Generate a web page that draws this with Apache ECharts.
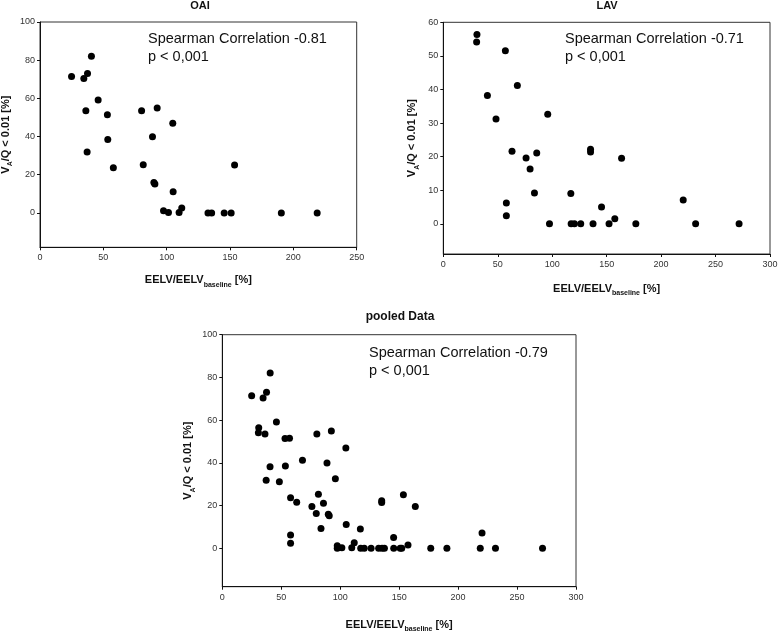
<!DOCTYPE html>
<html>
<head>
<meta charset="utf-8">
<script src="https://cdn.jsdelivr.net/npm/echarts@6/dist/echarts.min.js"></script>
<style>html,body{margin:0;padding:0;background:#fff}#c{width:778px;height:631px}</style>
</head>
<body>
<div id="c"></div>
<script>
// OAI data
var oaiX = [24.9, 34.6, 37.5, 40.6, 45.9, 36.2, 53.2, 53.5, 37.2, 57.9, 80.2, 92.5, 104.8, 88.8, 81.5, 89.9, 90.7, 105.1, 153.6, 97.5, 101.4, 109.8, 111.9, 132.6, 135.5, 145.4, 150.9, 190.5, 218.8];
var oaiY = [71.4, 70.4, 73.0, 82.1, 59.1, 53.5, 51.4, 38.5, 31.9, 23.7, 53.5, 54.9, 47.0, 39.9, 25.3, 15.9, 15.2, 11.1, 25.1, 1.2, 0.2, 0.2, 2.6, 0, 0, 0, 0, 0, 0];
// LAV data
var lavX = [30.9, 30.6, 57.0, 40.5, 68.0, 48.4, 95.9, 63.1, 76.0, 85.8, 79.7, 83.7, 57.9, 57.9, 135.2, 135.2, 163.7, 117.1, 145.3, 97.5, 117.4, 120.4, 126.2, 137.5, 152.2, 157.5, 176.8, 220.3, 231.7, 271.6];
var lavY = [56.4, 54.1, 51.5, 38.2, 41.2, 31.2, 32.6, 21.6, 19.6, 21.1, 16.3, 9.2, 6.2, 2.4, 22.2, 21.4, 19.5, 9.0, 5.0, 0, 0, 0, 0, 0, 0, 1.5, 0, 7.1, 0, 0];
// tick labels
var oaiXTicks = [0, 50, 100, 150, 200, 250];
var lavXTicks = [0, 50, 100, 150, 200, 250, 300];
var pctTicks = [0, 20, 40, 60, 80, 100];
var lavYTicks = [0, 10, 20, 30, 40, 50, 60];
var titles = ['OAI', 'LAV', 'pooled Data'];
var corrTexts = ['Spearman Correlation -0.81\np < 0,001', 'Spearman Correlation -0.71\np < 0,001', 'Spearman Correlation -0.79\np < 0,001'];

function pairs(xs, ys) { return xs.map(function (x, i) { return [x, ys[i]]; }); }
var pooledX = oaiX.concat(lavX);
var pooledY = oaiY.concat(lavY);

var FONT = 'Liberation Sans, Arial, sans-serif';
var richName = {
  b: { fontSize: 11, fontWeight: 'bold', fontFamily: FONT, color: '#111', lineHeight: 16 },
  s: { fontSize: 7, fontWeight: 'bold', fontFamily: FONT, color: '#111', lineHeight: 7, verticalAlign: 'bottom' }
};
function xAx(idx, max, ticks, gap) {
  return {
    gridIndex: idx, type: 'value', min: 0, max: max,
    axisLine: { show: true, onZero: false, lineStyle: { color: '#111', width: 1 } },
    axisTick: { show: true, inside: false, length: 3, customValues: ticks, lineStyle: { color: '#111' } },
    axisLabel: { customValues: ticks, fontSize: 9, color: '#333', fontFamily: FONT, margin: 6 },
    splitLine: { show: false },
    name: '{b|EELV/EELV}{s|baseline}{b| [%]}', nameLocation: 'middle', nameGap: gap,
    nameTextStyle: { rich: richName }
  };
}
function yAx(idx, min, max, ticks, gap) {
  return {
    gridIndex: idx, type: 'value', min: min, max: max,
    axisLine: { show: true, onZero: false, lineStyle: { color: '#111', width: 1 } },
    axisTick: { show: true, inside: false, length: 3, customValues: ticks, lineStyle: { color: '#111' } },
    axisLabel: { customValues: ticks, fontSize: 9, color: '#333', fontFamily: FONT, margin: 5 },
    splitLine: { show: false },
    name: '{b|V}{s|A}{b|/Q < 0.01 [%]}', nameLocation: 'middle', nameGap: gap,
    nameTextStyle: { rich: richName }
  };
}
function ser(idx, data) {
  return { type: 'scatter', xAxisIndex: idx, yAxisIndex: idx, data: data, symbolSize: 7,
    itemStyle: { color: '#000', opacity: 1 }, silent: true, animation: false };
}
var gridStyle = { show: true, borderColor: '#333', borderWidth: 1, backgroundColor: 'transparent', containLabel: false, outerBoundsMode: 'none' };
var option = {
  animation: false,
  title: [
    { text: titles[0], left: 200, top: 0, textAlign: 'center', padding: 0, textStyle: { fontSize: 11, fontWeight: 'bold', fontFamily: FONT, color: '#111' } },
    { text: titles[1], left: 607, top: 0, textAlign: 'center', padding: 0, textStyle: { fontSize: 11, fontWeight: 'bold', fontFamily: FONT, color: '#111' } },
    { text: titles[2], left: 400, top: 311, textAlign: 'center', padding: 0, textStyle: { fontSize: 12, fontWeight: 'bold', fontFamily: FONT, color: '#111' } }
  ],
  grid: [
    Object.assign({ left: 40, top: 22, width: 316.7, height: 225.3 }, gridStyle),
    Object.assign({ left: 443.3, top: 22.3, width: 326.7, height: 231.7 }, gridStyle),
    Object.assign({ left: 222.3, top: 334.7, width: 353.7, height: 252 }, gridStyle)
  ],
  xAxis: [xAx(0, 250, oaiXTicks, 25), xAx(1, 300, lavXTicks, 27), xAx(2, 300, lavXTicks, 30)],
  yAxis: [yAx(0, -18, 100, pctTicks, 26), yAx(1, -9, 60, lavYTicks, 23), yAx(2, -18, 100, pctTicks, 26)],
  series: [ser(0, pairs(oaiX, oaiY)), ser(1, pairs(lavX, lavY)), ser(2, pairs(pooledX, pooledY))],
  graphic: [
    { type: 'text', left: 148, top: 30, style: { text: corrTexts[0], font: '14.5px ' + FONT, fill: '#111', lineHeight: 18 } },
    { type: 'text', left: 565, top: 30, style: { text: corrTexts[1], font: '14.5px ' + FONT, fill: '#111', lineHeight: 18 } },
    { type: 'text', left: 369, top: 344, style: { text: corrTexts[2], font: '14.5px ' + FONT, fill: '#111', lineHeight: 18 } }
  ]
};
var chart = echarts.init(document.getElementById('c'), null, { renderer: 'canvas' });
chart.setOption(option);
</script>
</body>
</html>
